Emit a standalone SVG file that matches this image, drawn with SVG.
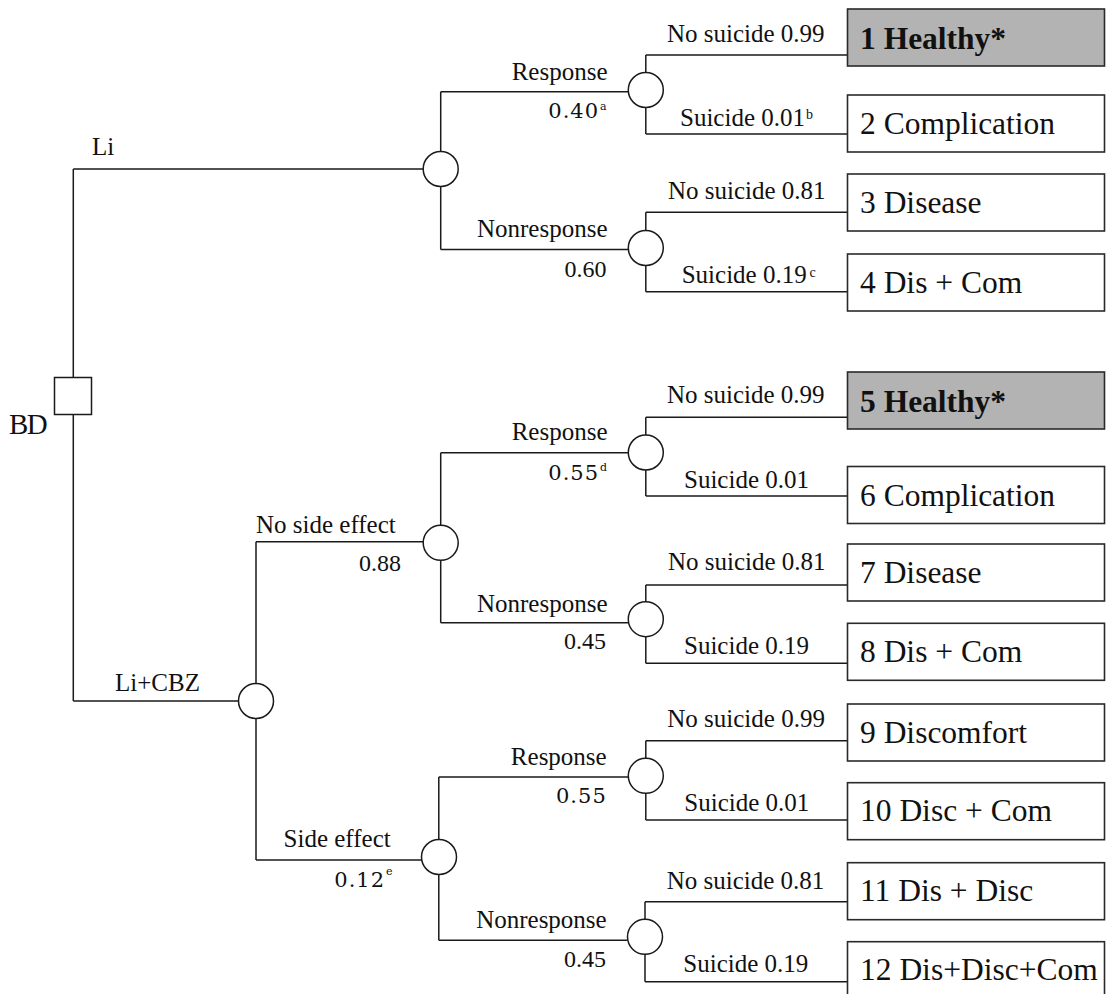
<svg xmlns="http://www.w3.org/2000/svg" width="1109" height="994" viewBox="0 0 1109 994">
<style>
.ln{fill:none;stroke:#1a1a1a;stroke-width:1.5}
.ch{fill:#fff;stroke:#1a1a1a;stroke-width:1.5}
.dc{fill:#fff;stroke:#1a1a1a;stroke-width:1.5}
.bx{fill:#fff;stroke:#2a2a2a;stroke-width:1.6}
.hl{fill:#b3b3b3}
.lb{font-family:"Liberation Serif","Times New Roman",serif;font-size:25px;fill:#111}
.pr{font-family:"DejaVu Serif",serif;font-size:21px;letter-spacing:1px;fill:#111}
.pn{font-family:"Liberation Serif","Times New Roman",serif;font-size:24px;fill:#111}
.sp{font-family:"DejaVu Serif",serif;font-size:11px;fill:#111}
.ss{font-family:"Liberation Serif",serif;font-size:14px;fill:#111}
.bt{font-family:"Liberation Serif","Times New Roman",serif;font-size:31.5px;fill:#111}
.bb{font-weight:bold}
.e{text-anchor:end}
</style>
<g id="connectors">
<path class="ln" d="M73.3,169 V377.5 M73.3,414.5 V701 M73.3,169 H423.2 M73.3,701 H238.5
M440.7,91.7 V151.5 M440.7,186.5 V249.5 M440.7,91.7 H628.3 M440.7,249.5 H628.3
M645.8,55 V72.5 M645.8,107.5 V134 M645.8,55 H847.5 M645.8,134 H847.5
M645.8,212.3 V230.5 M645.8,265.5 V291.7 M645.8,212.3 H847.5 M645.8,291.7 H847.5
M256,541.7 V683.5 M256,718.5 V860 M256,541.7 H423.2 M256,860 H421.5
M440.7,452.7 V525.3 M440.7,560.3 V622.7 M440.7,452.7 H628.3 M440.7,622.7 H628.3
M645.8,417.3 V435 M645.8,470 V496 M645.8,417.3 H847.5 M645.8,496 H847.5
M645.8,585 V601.7 M645.8,636.7 V663.3 M645.8,585 H847.5 M645.8,663.3 H847.5
M438.8,777 V839.5 M438.8,874.5 V940.3 M438.8,777 H628.3 M438.8,940.3 H627.5
M645.8,740.7 V758.3 M645.8,793.3 V820 M645.8,740.7 H847.5 M645.8,820 H847.5
M645,901.7 V919.3 M645,954.3 V981.7 M645,901.7 H847.5 M645,981.7 H847.5"/>
</g>
<g id="labels">
<text class="lb" x="92" y="155">Li</text>
<text class="lb" x="115" y="691">Li+CBZ</text>
<text class="lb e" x="607.5" y="80">Response</text>
<text class="pr" x="548.3" y="118.3">0.40</text><text class="sp" x="600" y="110">a</text>
<text class="lb e" x="607.5" y="237">Nonresponse</text>
<text class="pn e" x="606.5" y="277">0.60</text>
<text class="lb" x="667" y="41.5">No suicide 0.99</text>
<text class="lb" x="680" y="126">Suicide 0.01</text><text class="ss" x="806" y="119">b</text>
<text class="lb" x="668" y="199">No suicide 0.81</text>
<text class="lb" x="681.7" y="282.7">Suicide 0.19</text><text class="ss" x="809.5" y="277">c</text>
<text class="lb" x="256" y="532.7">No side effect</text>
<text class="pn e" x="401" y="570.7">0.88</text>
<text class="lb e" x="607.5" y="440">Response</text>
<text class="pr" x="548.3" y="480">0.55</text><text class="sp" x="600" y="470.5">d</text>
<text class="lb e" x="607.5" y="611.7">Nonresponse</text>
<text class="pn e" x="606" y="649.3">0.45</text>
<text class="lb" x="667" y="403.3">No suicide 0.99</text>
<text class="lb" x="684" y="488.3">Suicide 0.01</text>
<text class="lb" x="668" y="570">No suicide 0.81</text>
<text class="lb" x="684" y="654">Suicide 0.19</text>
<text class="lb e" x="390.7" y="846.7">Side effect</text>
<text class="pr" x="334.3" y="886.7">0.12</text><text class="sp" x="386" y="875">e</text>
<text class="lb e" x="606.7" y="765">Response</text>
<text class="pr" x="556" y="803.3">0.55</text>
<text class="lb e" x="606.7" y="928.3">Nonresponse</text>
<text class="pn e" x="606" y="967.3">0.45</text>
<text class="lb" x="667.3" y="726.7">No suicide 0.99</text>
<text class="lb" x="684.3" y="810.7">Suicide 0.01</text>
<text class="lb" x="666.7" y="889">No suicide 0.81</text>
<text class="lb" x="683.3" y="971.7">Suicide 0.19</text>
</g>
<g id="decision-BD">
<rect class="dc" x="54.5" y="377.5" width="37" height="37"/>
<text class="lb" x="9" y="434.3" style="font-size:29px;letter-spacing:-1.5px">BD</text>
</g>
<g id="chance-Li"><circle class="ch" cx="440.7" cy="169" r="17.5"/></g>
<g id="chance-Li-response"><circle class="ch" cx="645.8" cy="90" r="17.5"/></g>
<g id="chance-Li-nonresponse"><circle class="ch" cx="645.8" cy="248" r="17.5"/></g>
<g id="chance-LiCBZ"><circle class="ch" cx="256" cy="701" r="17.5"/></g>
<g id="chance-noside"><circle class="ch" cx="440.7" cy="542.8" r="17.5"/></g>
<g id="chance-noside-response"><circle class="ch" cx="645.8" cy="452.5" r="17.5"/></g>
<g id="chance-noside-nonresponse"><circle class="ch" cx="645.8" cy="619.2" r="17.5"/></g>
<g id="chance-side"><circle class="ch" cx="439" cy="857" r="17.5"/></g>
<g id="chance-side-response"><circle class="ch" cx="645.8" cy="775.8" r="17.5"/></g>
<g id="chance-side-nonresponse"><circle class="ch" cx="645" cy="936.8" r="17.5"/></g>
<g id="out1"><rect class="bx hl" x="847.5" y="9" width="257" height="57"/><text class="bt bb" x="860" y="49.3">1 Healthy*</text></g>
<g id="out2"><rect class="bx" x="847.5" y="95" width="257" height="57"/><text class="bt" x="860" y="133.5">2 Complication</text></g>
<g id="out3"><rect class="bx" x="847.5" y="174" width="257" height="57"/><text class="bt" x="860" y="212.5">3 Disease</text></g>
<g id="out4"><rect class="bx" x="847.5" y="254" width="257" height="57"/><text class="bt" x="860" y="292.5">4 Dis + Com</text></g>
<g id="out5"><rect class="bx hl" x="847.5" y="372" width="257" height="57"/><text class="bt bb" x="860" y="411.7">5 Healthy*</text></g>
<g id="out6"><rect class="bx" x="847.5" y="466.5" width="257" height="57"/><text class="bt" x="860" y="505.5">6 Complication</text></g>
<g id="out7"><rect class="bx" x="847.5" y="544" width="257" height="57"/><text class="bt" x="860" y="582.5">7 Disease</text></g>
<g id="out8"><rect class="bx" x="847.5" y="623.3" width="257" height="57"/><text class="bt" x="860" y="661.8">8 Dis + Com</text></g>
<g id="out9"><rect class="bx" x="847.5" y="704" width="257" height="57"/><text class="bt" x="860" y="742.5">9 Discomfort</text></g>
<g id="out10"><rect class="bx" x="847.5" y="782.7" width="257" height="57"/><text class="bt" x="860" y="821.2">10 Disc + Com</text></g>
<g id="out11"><rect class="bx" x="847.5" y="862.7" width="257" height="57"/><text class="bt" x="860" y="901.2">11 Dis + Disc</text></g>
<g id="out12"><rect class="bx" x="847.5" y="941.7" width="257" height="57"/><text class="bt" x="860" y="980.2">12 Dis+Disc+Com</text></g>
</svg>
